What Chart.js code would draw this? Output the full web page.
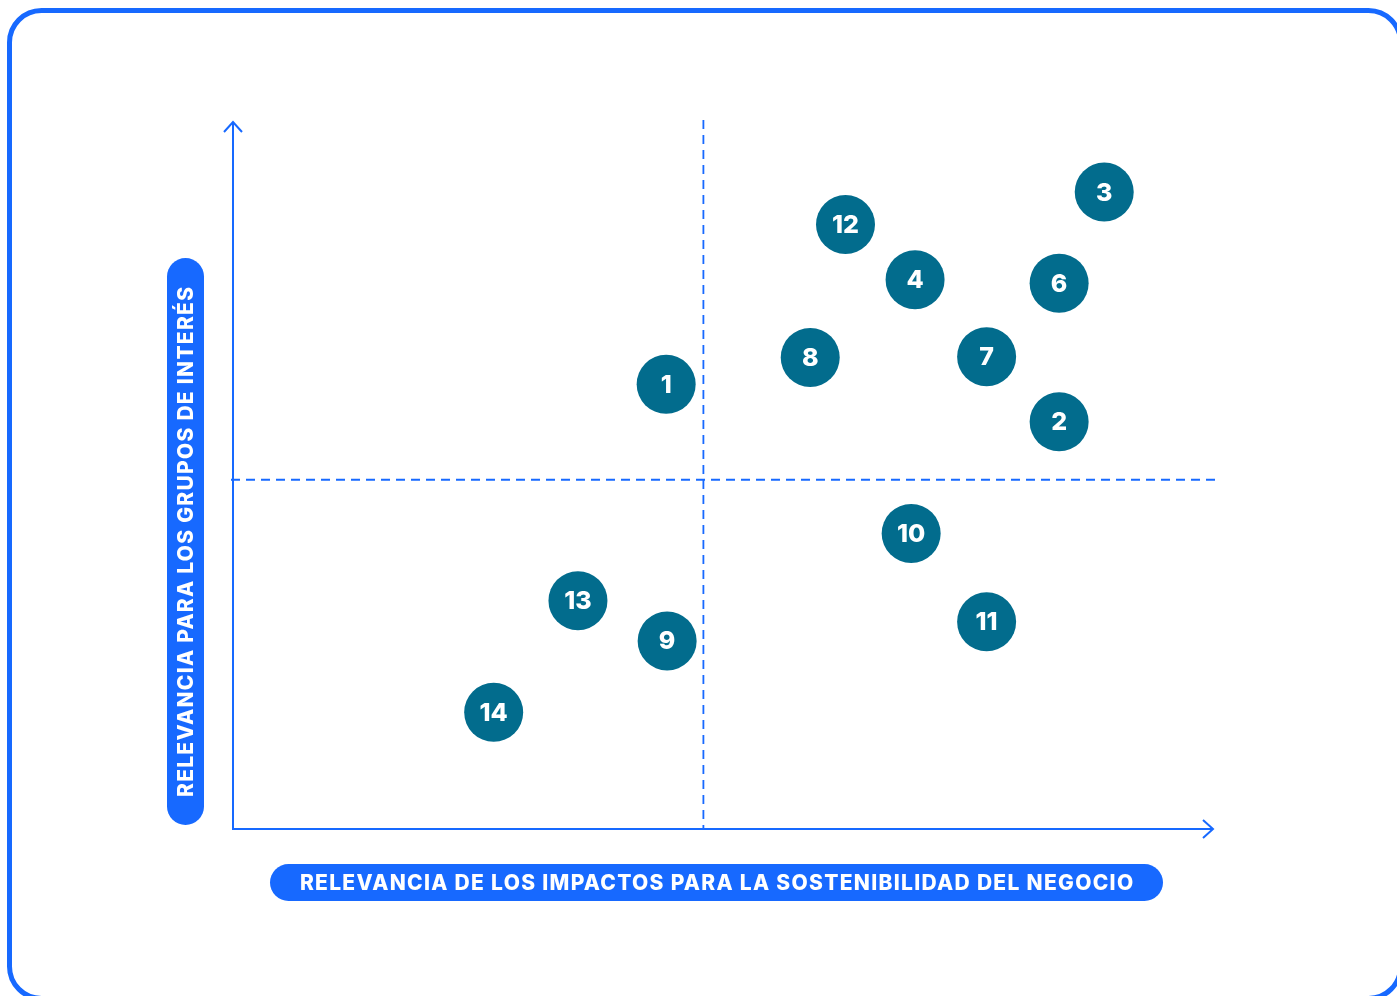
<!DOCTYPE html>
<html>
<head>
  <meta http-equiv="content-type" content="text/html; charset=utf-8"/>
  <script src="https://cdn.jsdelivr.net/npm/chart.js@4/dist/chart.umd.min.js"></script>
  <style>
    html, body { margin: 0; padding: 0; background: #fff; }
    canvas { display: block; }
  </style>
</head>
<body>
<canvas id="chart" width="1397" height="996"></canvas>

<script>
    // material topics: label, impact relevance (x), stakeholder relevance (y)
    const labels = ['1', '2', '3', '4', '6', '7', '8', '9', '10', '11', '12', '13', '14'];
    const impactValues = [4.42, 8.43, 8.89, 6.96, 8.43, 7.69, 5.89, 4.43, 6.92, 7.69, 6.25, 3.52, 2.66];
    const stakeholderValues = [6.29, 5.76, 9.01, 7.77, 7.72, 6.68, 6.67, 2.66, 4.18, 2.93, 8.55, 3.23, 1.65];
    // quadrant dividers
    const xThreshold = [4.8];
    const yThreshold = [4.94];

    const xTitle = 'RELEVANCIA DE LOS IMPACTOS PARA LA SOSTENIBILIDAD DEL NEGOCIO';
    const yTitle = 'RELEVANCIA PARA LOS GRUPOS DE INTERÉS';

    const blue = '#1769ff';
    const teal = '#026c8d';
    const titleFont = '800 21px Inter, "Open Sans", sans-serif';

    function roundRect(ctx, x, y, w, h, r) {
        ctx.beginPath();
        ctx.moveTo(x + r, y);
        ctx.arcTo(x + w, y, x + w, y + h, r);
        ctx.arcTo(x + w, y + h, x, y + h, r);
        ctx.arcTo(x, y + h, x, y, r);
        ctx.arcTo(x, y, x + w, y, r);
        ctx.closePath();
    }

    // text stretched with letter spacing to cover a target width
    function fitText(ctx, text, x, y, width) {
        ctx.letterSpacing = '0px';
        const w = ctx.measureText(text).width;
        const extra = (width - w) / (text.length - 1);
        ctx.letterSpacing = extra.toFixed(2) + 'px';
        ctx.fillText(text, x + extra / 2, y);
        ctx.letterSpacing = '0px';
    }

    const decorPlugin = {
        id: 'decor',
        beforeDatasetsDraw(chart) {
            const ctx = chart.ctx;
            const area = chart.chartArea;
            const xs = chart.scales.x, ys = chart.scales.y;
            ctx.save();

            // outer frame
            ctx.strokeStyle = blue;
            ctx.lineWidth = 5;
            roundRect(ctx, 9.5, 10.5, 1391, 988, 32);
            ctx.stroke();

            // quadrant dashes
            ctx.lineWidth = 1.8;
            ctx.setLineDash([9, 6]);
            const vx = xs.getPixelForValue(xThreshold[0]);
            ctx.beginPath();
            ctx.moveTo(vx, area.top - 2);
            ctx.lineTo(vx, area.bottom);
            ctx.stroke();
            const hy = ys.getPixelForValue(yThreshold[0]);
            ctx.beginPath();
            ctx.moveTo(area.left - 2, hy);
            ctx.lineTo(area.right + 2, hy);
            ctx.stroke();
            ctx.setLineDash([]);

            // axes with arrows
            ctx.lineWidth = 2;
            ctx.beginPath();
            ctx.moveTo(area.left, area.top);
            ctx.lineTo(area.left, area.bottom);
            ctx.lineTo(area.right, area.bottom);
            ctx.stroke();
            ctx.beginPath();
            ctx.moveTo(area.left - 9, area.top + 10);
            ctx.lineTo(area.left, area.top);
            ctx.lineTo(area.left + 9, area.top + 10);
            ctx.stroke();
            ctx.beginPath();
            ctx.moveTo(area.right - 10, area.bottom - 9);
            ctx.lineTo(area.right, area.bottom);
            ctx.lineTo(area.right - 10, area.bottom + 9);
            ctx.stroke();

            // axis title pills
            ctx.fillStyle = blue;
            roundRect(ctx, 270, 864, 893, 37, 18.5);
            ctx.fill();
            roundRect(ctx, 167, 258, 37, 567, 18.5);
            ctx.fill();

            ctx.fillStyle = '#fff';
            ctx.font = titleFont;
            ctx.textAlign = 'center';
            ctx.textBaseline = 'middle';
            fitText(ctx, xTitle, 716.5, 884, 833);
            ctx.save();
            ctx.translate(187, 542);
            ctx.rotate(-Math.PI / 2);
            fitText(ctx, yTitle, 0, 0, 510);
            ctx.restore();

            ctx.restore();
        },
        afterDatasetsDraw(chart) {
            const ctx = chart.ctx;
            const meta = chart.getDatasetMeta(0);
            ctx.save();
            ctx.fillStyle = '#fff';
            ctx.font = '800 25px Inter, "Open Sans", sans-serif';
            ctx.textAlign = 'center';
            ctx.textBaseline = 'middle';
            meta.data.forEach((pt, i) => {
                ctx.fillText(labels[i], pt.x, pt.y + 1);
            });
            ctx.restore();
        }
    };

    const points = impactValues.map((v, i) => ({x: v, y: stakeholderValues[i]}));

    new Chart(document.getElementById('chart'), {
        type: 'scatter',
        data: {
            labels: labels,
            datasets: [{
                data: points,
                pointRadius: 29.5,
                pointHoverRadius: 29.5,
                pointBackgroundColor: teal,
                pointBorderWidth: 0,
                borderWidth: 0
            }]
        },
        options: {
            responsive: false,
            devicePixelRatio: 1,
            animation: false,
            events: [],
            layout: {padding: {left: 233, right: 184, top: 122, bottom: 167}},
            plugins: {legend: {display: false}, tooltip: {enabled: false}},
            scales: {
                x: {type: 'linear', min: 0, max: 10, display: false},
                y: {type: 'linear', min: 0, max: 10, display: false}
            }
        },
        plugins: [decorPlugin]
    });
</script>
</body>
</html>
